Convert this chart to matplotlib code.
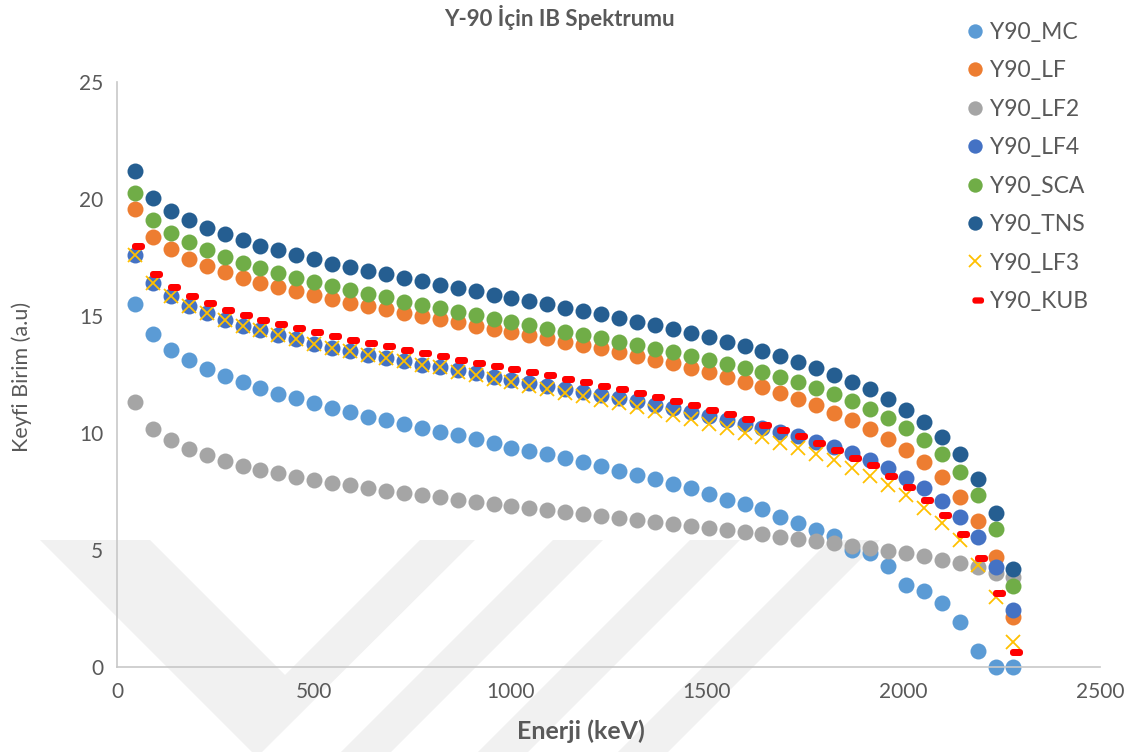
import matplotlib
matplotlib.use('Agg')
import matplotlib.pyplot as plt
import numpy as np
from matplotlib.path import Path
from matplotlib.markers import MarkerStyle
from matplotlib.patches import Polygon

energy = [45.6, 91.2, 136.8, 182.4, 228, 273.6, 319.2, 364.8, 410.4, 456,
          501.6, 547.2, 592.8, 638.4, 684, 729.6, 775.2, 820.8, 866.4, 912,
          957.6, 1003.2, 1048.8, 1094.4, 1140, 1185.6, 1231.2, 1276.8, 1322.4, 1368,
          1413.6, 1459.2, 1504.8, 1550.4, 1596, 1641.6, 1687.2, 1732.8, 1778.4, 1824,
          1869.6, 1915.2, 1960.8, 2006.4, 2052, 2097.6, 2143.2, 2188.8, 2234.4, 2280]

y90_mc = [15.50, 14.22, 13.56, 13.11, 12.74, 12.44, 12.17, 11.92, 11.68, 11.48,
          11.27, 11.08, 10.88, 10.70, 10.56, 10.38, 10.21, 10.06, 9.91, 9.73,
          9.56, 9.37, 9.24, 9.10, 8.92, 8.75, 8.59, 8.39, 8.21, 8.02,
          7.82, 7.64, 7.38, 7.14, 6.97, 6.74, 6.42, 6.15, 5.86, 5.60,
          4.98, 4.86, 4.30, 3.51, 3.23, 2.75, 1.94, 0.70, 0.0, 0.0]

y90_lf = [19.57, 18.39, 17.85, 17.45, 17.14, 16.87, 16.64, 16.42, 16.24, 16.06,
          15.89, 15.71, 15.57, 15.43, 15.29, 15.13, 15.00, 14.86, 14.73, 14.59,
          14.44, 14.32, 14.19, 14.05, 13.90, 13.77, 13.62, 13.46, 13.30, 13.13,
          12.98, 12.78, 12.59, 12.39, 12.19, 11.96, 11.73, 11.46, 11.18, 10.87,
          10.55, 10.17, 9.76, 9.27, 8.74, 8.10, 7.28, 6.22, 4.72, 2.15]

y90_lf2 = [11.32, 10.18, 9.69, 9.33, 9.05, 8.80, 8.60, 8.42, 8.28, 8.13,
           7.99, 7.88, 7.76, 7.65, 7.53, 7.44, 7.34, 7.25, 7.15, 7.06,
           6.98, 6.89, 6.81, 6.72, 6.64, 6.55, 6.45, 6.38, 6.28, 6.20,
           6.12, 6.03, 5.95, 5.84, 5.77, 5.68, 5.57, 5.48, 5.38, 5.28,
           5.18, 5.10, 4.97, 4.86, 4.74, 4.57, 4.43, 4.29, 4.03, 3.86]

y90_lf4 = [17.59, 16.42, 15.85, 15.44, 15.11, 14.83, 14.59, 14.39, 14.19, 14.00,
           13.82, 13.65, 13.49, 13.35, 13.21, 13.06, 12.92, 12.81, 12.68, 12.55,
           12.40, 12.26, 12.13, 12.01, 11.88, 11.75, 11.62, 11.48, 11.35, 11.21,
           11.06, 10.90, 10.74, 10.57, 10.40, 10.22, 10.04, 9.86, 9.63, 9.42,
           9.16, 8.85, 8.49, 8.09, 7.64, 7.09, 6.42, 5.54, 4.29, 2.44]

y90_sca = [20.27, 19.10, 18.55, 18.15, 17.81, 17.51, 17.25, 17.04, 16.82, 16.62,
           16.44, 16.28, 16.12, 15.95, 15.80, 15.61, 15.48, 15.34, 15.18, 15.03,
           14.88, 14.74, 14.60, 14.46, 14.32, 14.19, 14.06, 13.90, 13.76, 13.60,
           13.45, 13.29, 13.13, 12.96, 12.79, 12.61, 12.41, 12.17, 11.92, 11.66,
           11.36, 11.03, 10.66, 10.23, 9.72, 9.10, 8.33, 7.34, 5.88, 3.48]

y90_tns = [21.21, 20.06, 19.49, 19.09, 18.76, 18.49, 18.24, 18.01, 17.81, 17.61,
           17.42, 17.23, 17.09, 16.93, 16.78, 16.62, 16.50, 16.34, 16.21, 16.06,
           15.91, 15.78, 15.64, 15.50, 15.35, 15.21, 15.07, 14.91, 14.76, 14.60,
           14.44, 14.27, 14.10, 13.90, 13.72, 13.51, 13.30, 13.02, 12.76, 12.49,
           12.17, 11.87, 11.45, 11.00, 10.48, 9.85, 9.09, 8.05, 6.59, 4.19]

y90_lf3 = [17.59, 16.42, 15.85, 15.44, 15.11, 14.83, 14.59, 14.39, 14.19, 14.00,
           13.82, 13.65, 13.49, 13.35, 13.21, 13.06, 12.92, 12.80, 12.62, 12.47,
           12.32, 12.17, 12.02, 11.88, 11.73, 11.58, 11.43, 11.27, 11.10, 10.93,
           10.76, 10.58, 10.40, 10.21, 10.02, 9.81, 9.59, 9.36, 9.10, 8.85,
           8.52, 8.16, 7.78, 7.34, 6.81, 6.17, 5.43, 4.36, 3.00, 1.08]

y90_kub = [17.98, 16.81, 16.24, 15.85, 15.54, 15.27, 15.06, 14.83, 14.66, 14.47,
           14.30, 14.15, 13.99, 13.83, 13.71, 13.56, 13.42, 13.29, 13.13, 13.00,
           12.88, 12.74, 12.59, 12.47, 12.31, 12.17, 12.01, 11.87, 11.70, 11.53,
           11.35, 11.18, 11.00, 10.81, 10.58, 10.35, 10.13, 9.87, 9.59, 9.27,
           8.94, 8.63, 8.16, 7.71, 7.14, 6.50, 5.68, 4.65, 3.15, 0.65]

series_names = ['Y90_MC', 'Y90_LF', 'Y90_LF2', 'Y90_LF4', 'Y90_SCA', 'Y90_TNS', 'Y90_LF3', 'Y90_KUB']
x_ticks = [0, 500, 1000, 1500, 2000, 2500]
y_ticks = [0, 5, 10, 15, 20, 25]

TXT = '#595959'
plt.rcParams['font.family'] = ['Lato', 'DejaVu Sans']

W, H = 1137, 752
fig = plt.figure(figsize=(W / 100, H / 100), dpi=100)
fig.patch.set_facecolor('white')


def px(pts):
    return [(x / W, 1 - y / H) for x, y in pts]


# faint background watermark bands (figure pixel coordinates)
wm = '#F1F1F1'
bands = [
    [(40, 540), (150, 540), (285, 675), (420, 540), (475, 540), (262, 752), (252, 752)],
    [(553, 540), (603, 540), (391, 752), (341, 752)],
    [(690, 540), (740, 540), (528, 752), (478, 752)],
    [(830, 540), (880, 540), (668, 752), (618, 752)],
]
for b in bands:
    fig.patches.append(Polygon(px(b), closed=True, transform=fig.transFigure,
                               facecolor=wm, edgecolor='none', zorder=-5))


# rounded dash marker, slightly shifted right (as in the reference)
def rounded_dash(w=13.0, h=7.0, r=3.0, dx=3.0, n=6):
    pts = []
    cx = [(w / 2 - r, h / 2 - r, 0), (-w / 2 + r, h / 2 - r, 90),
          (-w / 2 + r, -h / 2 + r, 180), (w / 2 - r, -h / 2 + r, 270)]
    for (x0, y0, a0) in cx:
        for t in np.linspace(np.radians(a0), np.radians(a0 + 90), n):
            pts.append((x0 + r * np.cos(t) + dx, y0 + r * np.sin(t)))
    pts.append(pts[0])
    codes = [Path.MOVETO] + [Path.LINETO] * (len(pts) - 2) + [Path.CLOSEPOLY]
    return Path(np.array(pts), codes)


dash_path = rounded_dash()
dash_ms = 2 * np.abs(dash_path.vertices).max() * 0.72  # px -> pt

ax = fig.add_axes([117 / W, 85 / H, 983 / W, 585 / H])
ax.set_xlim(0, 2500)
ax.set_ylim(0, 25)
ax.set_facecolor('none')

ms = 11.5
colors = ['#5B9BD5', '#ED7D31', '#A5A5A5', '#4472C4', '#70AD47', '#255E91']
data = [y90_mc, y90_lf, y90_lf2, y90_lf4, y90_sca, y90_tns]
handles = []
for name, vals, c in zip(series_names[:6], data, colors):
    h, = ax.plot(energy, vals, linestyle='none', marker='o', markersize=ms,
                 markerfacecolor=c, markeredgecolor='none', clip_on=False,
                 label=name)
    handles.append(h)
h, = ax.plot(energy, y90_lf3, linestyle='none', marker='x', markersize=10,
             markeredgewidth=1.3, color='#FFC000', clip_on=False, label='Y90_LF3')
handles.append(h)
h, = ax.plot(energy, y90_kub, linestyle='none', marker=MarkerStyle(dash_path),
             markersize=dash_ms, markerfacecolor='#FF0000', markeredgecolor='none',
             clip_on=False, label='Y90_KUB')
handles.append(h)

for s in ['top', 'right']:
    ax.spines[s].set_visible(False)
for s in ['left', 'bottom']:
    ax.spines[s].set_color('#C8C8C8')
    ax.spines[s].set_linewidth(1.2)
ax.set_xticks(x_ticks)
ax.set_yticks(y_ticks)
ax.tick_params(length=0, labelcolor=TXT, labelsize=15)
ax.tick_params(axis='y', pad=10)
ax.tick_params(axis='x', pad=11)

fig.text(559 / W, 1 - 18 / H, 'Y-90 İçin IB Spektrumu', ha='center', va='center',
         fontsize=16, fontweight='bold', color=TXT)
fig.text(581 / W, 1 - 731 / H, 'Enerji (keV)', ha='center', va='center',
         fontsize=18, fontweight='bold', color=TXT)
fig.text(22 / W, 1 - 377 / H, 'Keyfi Birim (a.u)', ha='center', va='center',
         rotation=90, fontsize=15.5, color=TXT)

leg = fig.legend(handles=handles, loc='upper left', bbox_to_anchor=(966 / W, 1 - 22 / H),
                 frameon=False, fontsize=16.5, labelspacing=0.76, handlelength=0.8,
                 handletextpad=0.25, borderpad=0, borderaxespad=0, markerscale=0.9)
for t in leg.get_texts():
    t.set_color(TXT)

fig.savefig('out.png', dpi=100, facecolor='white')
